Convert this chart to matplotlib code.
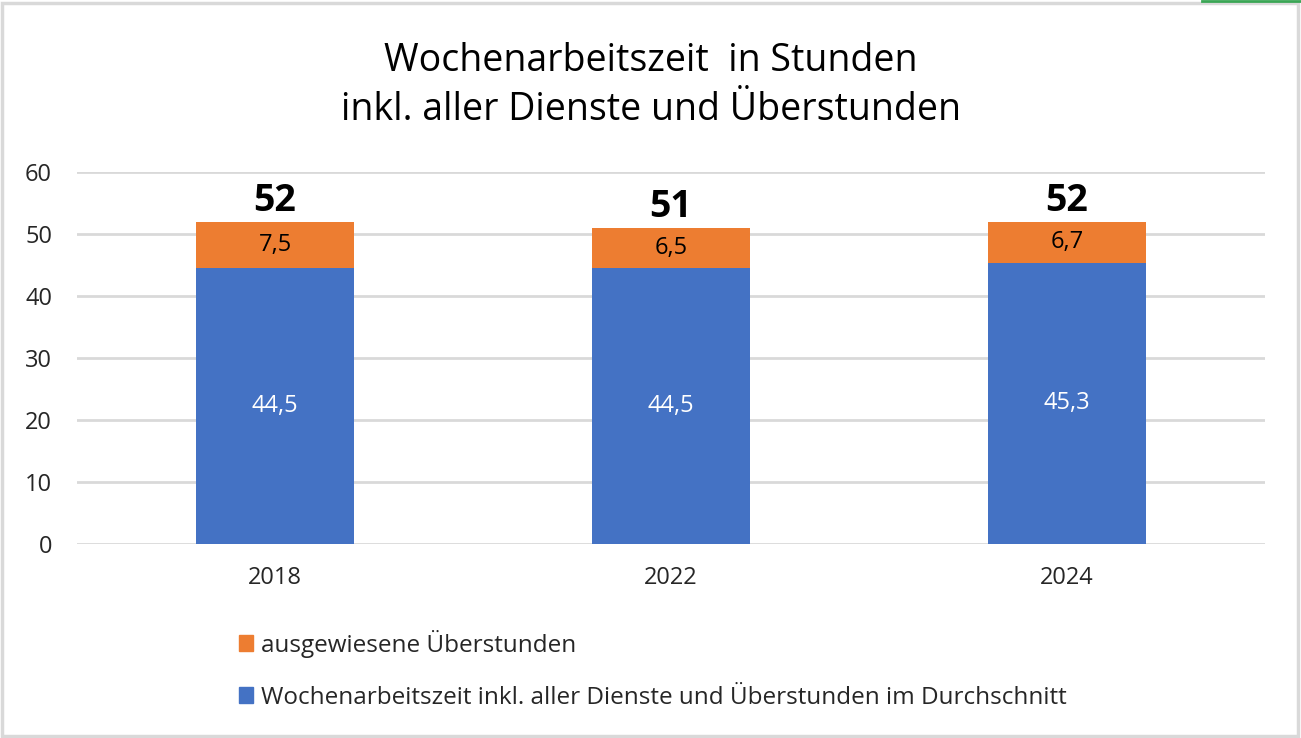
import matplotlib
matplotlib.use("Agg")
import matplotlib.pyplot as plt
from matplotlib.patches import Rectangle
from matplotlib.lines import Line2D
import numpy as np

plt.rcParams['font.family'] = ['Open Sans', 'DejaVu Sans']

years = ["2018", "2022", "2024"]
base_hours = [44.5, 44.5, 45.3]
overtime = [7.5, 6.5, 6.7]
totals = [52, 51, 52]
base_labels = ["44,5", "44,5", "45,3"]
overtime_labels = ["7,5", "6,5", "6,7"]
yticks = [0, 10, 20, 30, 40, 50, 60]

title = "Wochenarbeitszeit  in Stunden\ninkl. aller Dienste und Überstunden"
legend_over = "ausgewiesene Überstunden"
legend_base = "Wochenarbeitszeit inkl. aller Dienste und Überstunden im Durchschnitt"

BLUE = "#4472C4"
ORANGE = "#ED7D31"
GRID = "#d9d9d9"
TEXT = "#262626"

fig = plt.figure(figsize=(13.01, 7.38), dpi=100)
ax = fig.add_axes([0.0592, 0.263, 0.9131, 0.504])

x = np.arange(len(years))
w = 0.4
ax.bar(x, base_hours, width=w, color=BLUE, zorder=3)
ax.bar(x, overtime, width=w, bottom=base_hours, color=ORANGE, zorder=3)

for i in range(len(years)):
    ax.text(x[i], base_hours[i] / 2, base_labels[i], ha='center', va='center',
            color='white', fontsize=17, zorder=4)
    ax.text(x[i], base_hours[i] + overtime[i] / 2, overtime_labels[i], ha='center',
            va='center', color='black', fontsize=17, zorder=4)
    ax.text(x[i], base_hours[i] + overtime[i] + 0.25, str(totals[i]), ha='center',
            va='bottom', color='black', fontsize=27, fontweight='bold', zorder=4)

ax.set_xlim(-0.5, len(years) - 0.5)
ax.set_ylim(0, 60)
ax.set_yticks(yticks)
ax.set_yticklabels([str(t) for t in yticks], fontsize=17, color=TEXT)
ax.set_xticks(x)
ax.set_xticklabels(years, fontsize=17, color=TEXT)
ax.tick_params(axis='both', length=0)
ax.tick_params(axis='y', pad=18)
ax.tick_params(axis='x', pad=16)
ax.yaxis.grid(True, color=GRID, linewidth=2, zorder=0)
ax.set_axisbelow(True)
for s in ax.spines.values():
    s.set_visible(False)

fig.text(0.5005, 0.884, title, ha='center', va='center', fontsize=27,
         color='black', linespacing=1.38)

handles = [Rectangle((0, 0), 1, 1, color=ORANGE), Rectangle((0, 0), 1, 1, color=BLUE)]
leg = fig.legend(handles, [legend_over, legend_base], loc='upper left',
                 bbox_to_anchor=(0.176, 0.16), frameon=False, fontsize=17.5,
                 handlelength=0.6, handleheight=0.6, handletextpad=0.3,
                 labelspacing=1.15, borderaxespad=0)
for t in leg.get_texts():
    t.set_color(TEXT)

# chart border
fig.patches.append(Rectangle((0.0015, 0.003), 0.9965, 0.993, transform=fig.transFigure,
                             fill=False, edgecolor=GRID, linewidth=2.5))
fig.lines.append(Line2D([0.924, 1.0], [0.999, 0.999], transform=fig.transFigure,
                        color="#3aa655", linewidth=2))

fig.savefig("out.png", dpi=100)
